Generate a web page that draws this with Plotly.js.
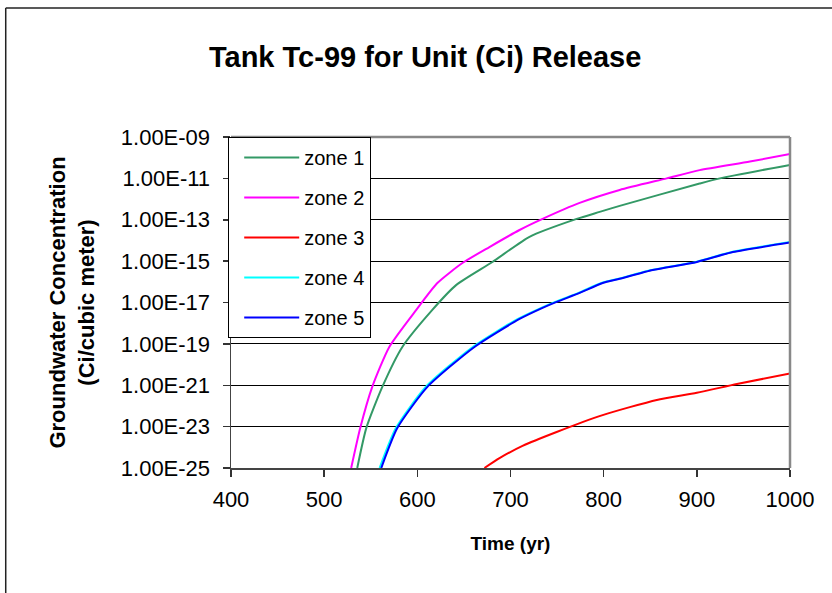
<!DOCTYPE html>
<html>
<head>
<meta charset="utf-8">
<script src="https://cdn.plot.ly/plotly-3.0.1.min.js"></script>
<style>
html,body{margin:0;padding:0;background:#fff;}
#chart{width:832px;height:593px;}
</style>
</head>
<body>
<div id="chart"></div>
<script>
// ---- data ----
const seriesNames = ["zone 1", "zone 2", "zone 3", "zone 4", "zone 5"];
const seriesColors = ["#339966", "#FF00FF", "#FF0000", "#00FFFF", "#0000FF"];

const zone1Time = [535.5, 545.2, 562.4, 583.9, 616.1, 641.9, 680.6, 720.4, 771.0, 795.7, 817.2, 903, 924.7, 1000];
const zone1Conc = [1e-25, 8.5e-24, 8.3e-22, 7.1e-20, 4.4e-18, 7.1e-17, 9.1e-16, 1.5e-14, 1.1e-13, 2.4e-13, 4.7e-13, 5.6e-12, 1.0e-11, 4.5e-11];

const zone2Time = [529, 538.7, 551.6, 569.9, 598.9, 621.5, 648.4, 677.4, 709.7, 734.4, 774.2, 817.2, 867.7, 903, 957, 1000];
const zone2Conc = [1e-25, 8.5e-24, 8.3e-22, 7.1e-20, 4.4e-18, 8.7e-17, 8.1e-16, 4.8e-15, 3.2e-14, 1.1e-13, 6.5e-13, 2.75e-12, 1.0e-11, 2.5e-11, 6.5e-11, 1.5e-10];

const zone3Time = [672.0, 688.2, 712.9, 749.5, 798.9, 857.0, 900.0, 943.0, 1000];
const zone3Conc = [1e-25, 3.0e-25, 1.17e-24, 5.5e-24, 3.6e-23, 1.95e-22, 4.3e-22, 1.15e-21, 3.7e-21];

const zone4Time = [559.5, 577, 609, 659.5, 708, 733, 748, 773, 797.5, 816, 851.5, 899, 937.5, 1000];
const zone4Conc = [1e-25, 8.5e-24, 8.3e-22, 7.1e-20, 1.6e-18, 5.5e-18, 1.07e-17, 2.9e-17, 8.7e-17, 1.4e-16, 3.7e-16, 9.1e-16, 2.75e-15, 8.3e-15];

const zone5Time = [561.3, 578.5, 610.8, 661.3, 709.7, 734.4, 749.5, 774.2, 798.9, 817.2, 852.7, 900, 938.7, 1000];
const zone5Conc = [1e-25, 8.5e-24, 8.3e-22, 7.1e-20, 1.6e-18, 5.5e-18, 1.07e-17, 2.9e-17, 8.7e-17, 1.4e-16, 3.7e-16, 9.1e-16, 2.75e-15, 7.9e-15];

const yTickVals = [1e-25, 1e-23, 1e-21, 1e-19, 1e-17, 1e-15, 1e-13, 1e-11, 1e-9];
const yTickText = ["1.00E-25", "1.00E-23", "1.00E-21", "1.00E-19", "1.00E-17", "1.00E-15", "1.00E-13", "1.00E-11", "1.00E-09"];
const xTickVals = [400, 500, 600, 700, 800, 900, 1000];

// ---- traces ----
const times = [zone1Time, zone2Time, zone3Time, zone4Time, zone5Time];
const concs = [zone1Conc, zone2Conc, zone3Conc, zone4Conc, zone5Conc];
const traces = seriesNames.map((name, i) => ({
  type: "scatter",
  mode: "lines",
  name: name,
  legendgroup: "g" + i,
  x: times[i],
  y: concs[i],
  line: {color: seriesColors[i], width: 2, shape: "spline", smoothing: 0.6}
}));

const F = "Liberation Sans, Arial, sans-serif";
const layout = {
  width: 832, height: 593,
  margin: {l: 231, r: 42, t: 137, b: 125},
  paper_bgcolor: "#fff", plot_bgcolor: "#fff",
  font: {family: F, color: "#000", size: 21},
  showlegend: true,
  title: {
    text: "<b>Tank Tc-99 for Unit (Ci) Release</b>",
    font: {family: F, size: 29, color: "#000"},
    x: 0.511, xref: "container", xanchor: "center",
    y: 0.904, yref: "container", yanchor: "middle"
  },
  xaxis: {
    type: "linear", range: [400, 1000],
    tickvals: xTickVals, ticktext: xTickVals.map(String),
    ticks: "outside", ticklen: 7, tickwidth: 1.5, tickcolor: "#333",
    ticklabelstandoff: 4,
    showline: true, linecolor: "#444", linewidth: 1.5,
    showgrid: false, zeroline: false,
    tickfont: {family: F, size: 22, color: "#000"},
    title: {text: "<b>Time (yr)</b>", font: {family: F, size: 19, color: "#000"}, standoff: 26}
  },
  yaxis: {
    type: "log", range: [-25, -9],
    tickvals: yTickVals, ticktext: yTickText,
    ticks: "outside", ticklen: 7, tickwidth: 1.5, tickcolor: "#333",
    ticklabelstandoff: 8,
    showline: true, linecolor: "#444", linewidth: 1.5,
    showgrid: true, gridcolor: "#000", gridwidth: 1,
    zeroline: false,
    tickfont: {family: F, size: 22, color: "#000"},
    title: {text: "<b>Groundwater Concentration<br>(Ci/cubic meter)</b>", font: {family: F, size: 22, color: "#000"}, standoff: 20}
  },
  legend: {
    x: -0.005, xanchor: "left", y: 1.0, yanchor: "top",
    bgcolor: "#fff", bordercolor: "#000", borderwidth: 1,
    font: {family: F, size: 20, color: "#000"},
    tracegroupgap: 11, traceorder: "grouped", itemwidth: 55, indentation: 10
  },
  shapes: [
    // gray plot-area frame (top and right)
    {type: "line", xref: "paper", yref: "paper", x0: 0, x1: 1, y0: 1, y1: 1, line: {color: "#888", width: 2.5}, layer: "above"},
    {type: "line", xref: "paper", yref: "paper", x0: 1, x1: 1, y0: 0, y1: 1, line: {color: "#888", width: 2.5}, layer: "above"},
    // outer chart border (left and top)
    {type: "line", xref: "paper", yref: "paper", x0: -0.403, x1: -0.403, y0: -0.4, y1: 1.39, line: {color: "#222", width: 1.5}},
    {type: "line", xref: "paper", yref: "paper", x0: -0.403, x1: 1.1, y0: 1.39, y1: 1.39, line: {color: "#222", width: 1.5}}
  ]
};

Plotly.newPlot("chart", traces, layout, {displayModeBar: false, staticPlot: true});
</script>
</body>
</html>
